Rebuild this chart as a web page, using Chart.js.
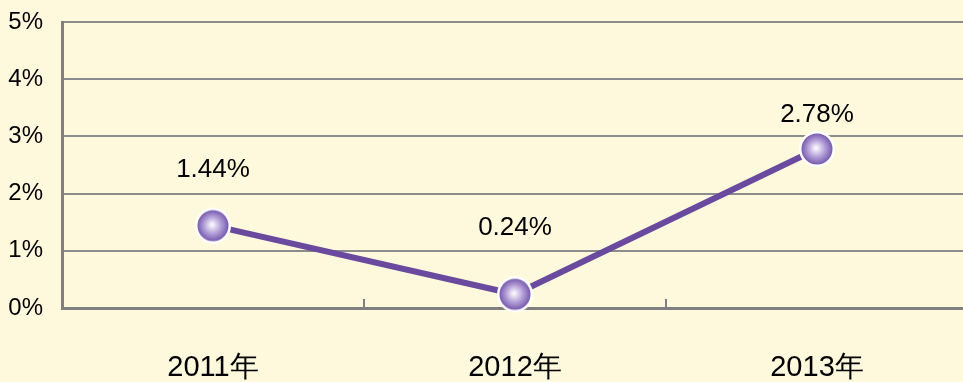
<!DOCTYPE html>
<html>
<head>
<meta charset="utf-8">
<script src="https://cdn.jsdelivr.net/npm/chart.js@4.4.1/dist/chart.umd.min.js"></script>
<style>
    html, body { margin: 0; padding: 0; background: #fef9dc; overflow: hidden; }
    canvas { display: block; }
</style>
</head>
<body>
<canvas id="rateChart" width="968" height="382"></canvas>
<script>
// Yearly rates (%)
const years = ['2011年', '2012年', '2013年'];
const rates = [1.44, 0.24, 2.78];
const yTicks = [0, 1, 2, 3, 4, 5];
// how far each value label sits above its marker
const labelOffsets = [56, 66, 34];

const LINE_COLOR = '#6a4a9e';
const FONT = '"Liberation Sans", Arial, sans-serif';

// Glossy sphere used as the marker
const makeSphere = () => {
    const size = 38;
    const c = document.createElement('canvas');
    c.width = size;
    c.height = size;
    const g = c.getContext('2d');
    const r = size / 2;
    g.beginPath();
    g.arc(r, r, r - 1, 0, Math.PI * 2);
    g.fillStyle = '#ffffff';
    g.fill();
    const grad = g.createRadialGradient(r - 1, r - 1, 1, r, r, r - 3);
    grad.addColorStop(0, '#f8f5fc');
    grad.addColorStop(0.5, '#b39fd8');
    grad.addColorStop(1, '#7456aa');
    g.beginPath();
    g.arc(r, r, r - 3.5, 0, Math.PI * 2);
    g.fillStyle = grad;
    g.fill();
    return c;
};

// Value labels above the points + short inward ticks on the x axis
const extras = {
    id: 'extras',
    afterDatasetsDraw: (chart) => {
        const ctx = chart.ctx;
        const meta = chart.getDatasetMeta(0);
        ctx.save();
        ctx.font = '26px ' + FONT;
        ctx.fillStyle = '#000';
        ctx.textAlign = 'center';
        ctx.textBaseline = 'middle';
        meta.data.forEach((pt, i) => {
            ctx.fillText(rates[i].toFixed(2) + '%', pt.x, pt.y - labelOffsets[i]);
        });

        const x = chart.scales.x;
        const bottom = chart.chartArea.bottom;
        ctx.strokeStyle = '#7f7f7f';
        ctx.lineWidth = 2;
        for (let i = 0; i < years.length - 1; i++) {
            const px = (x.getPixelForValue(i) + x.getPixelForValue(i + 1)) / 2;
            ctx.beginPath();
            ctx.moveTo(px, bottom);
            ctx.lineTo(px, bottom - 9);
            ctx.stroke();
        }
        ctx.restore();
    }
};

new Chart(document.getElementById('rateChart'), {
    type: 'line',
    data: {
        labels: years,
        datasets: [{
            data: rates,
            borderColor: LINE_COLOR,
            borderWidth: 6,
            tension: 0,
            pointStyle: makeSphere(),
            pointRadius: 19,
            pointHoverRadius: 19,
            clip: false
        }]
    },
    options: {
        responsive: false,
        animation: false,
        events: [],
        layout: { autoPadding: false, padding: { top: 22, right: 0, left: 0, bottom: 0 } },
        plugins: {
            legend: { display: false },
            tooltip: { enabled: false }
        },
        scales: {
            x: {
                offset: true,
                grid: { display: false, drawTicks: false },
                border: { display: true, color: '#7f7f7f', width: 3 },
                ticks: {
                    color: '#000',
                    font: { family: FONT, size: 29 },
                    padding: 43
                },
                afterFit: (scale) => { scale.height = 74; }
            },
            y: {
                min: 0,
                max: 5,
                afterBuildTicks: (scale) => { scale.ticks = yTicks.map(v => ({ value: v })); },
                grid: { color: '#8c8c8c', lineWidth: 2, drawTicks: false },
                border: { display: true, color: '#7f7f7f', width: 3 },
                ticks: {
                    color: '#000',
                    font: { family: FONT, size: 24 },
                    padding: 19,
                    callback: (v) => v + '%'
                },
                afterFit: (scale) => {
                    scale.width = 62;
                    scale.paddingTop = 0;
                    scale.paddingBottom = 0;
                }
            }
        }
    },
    plugins: [extras]
});
</script>
</body>
</html>
